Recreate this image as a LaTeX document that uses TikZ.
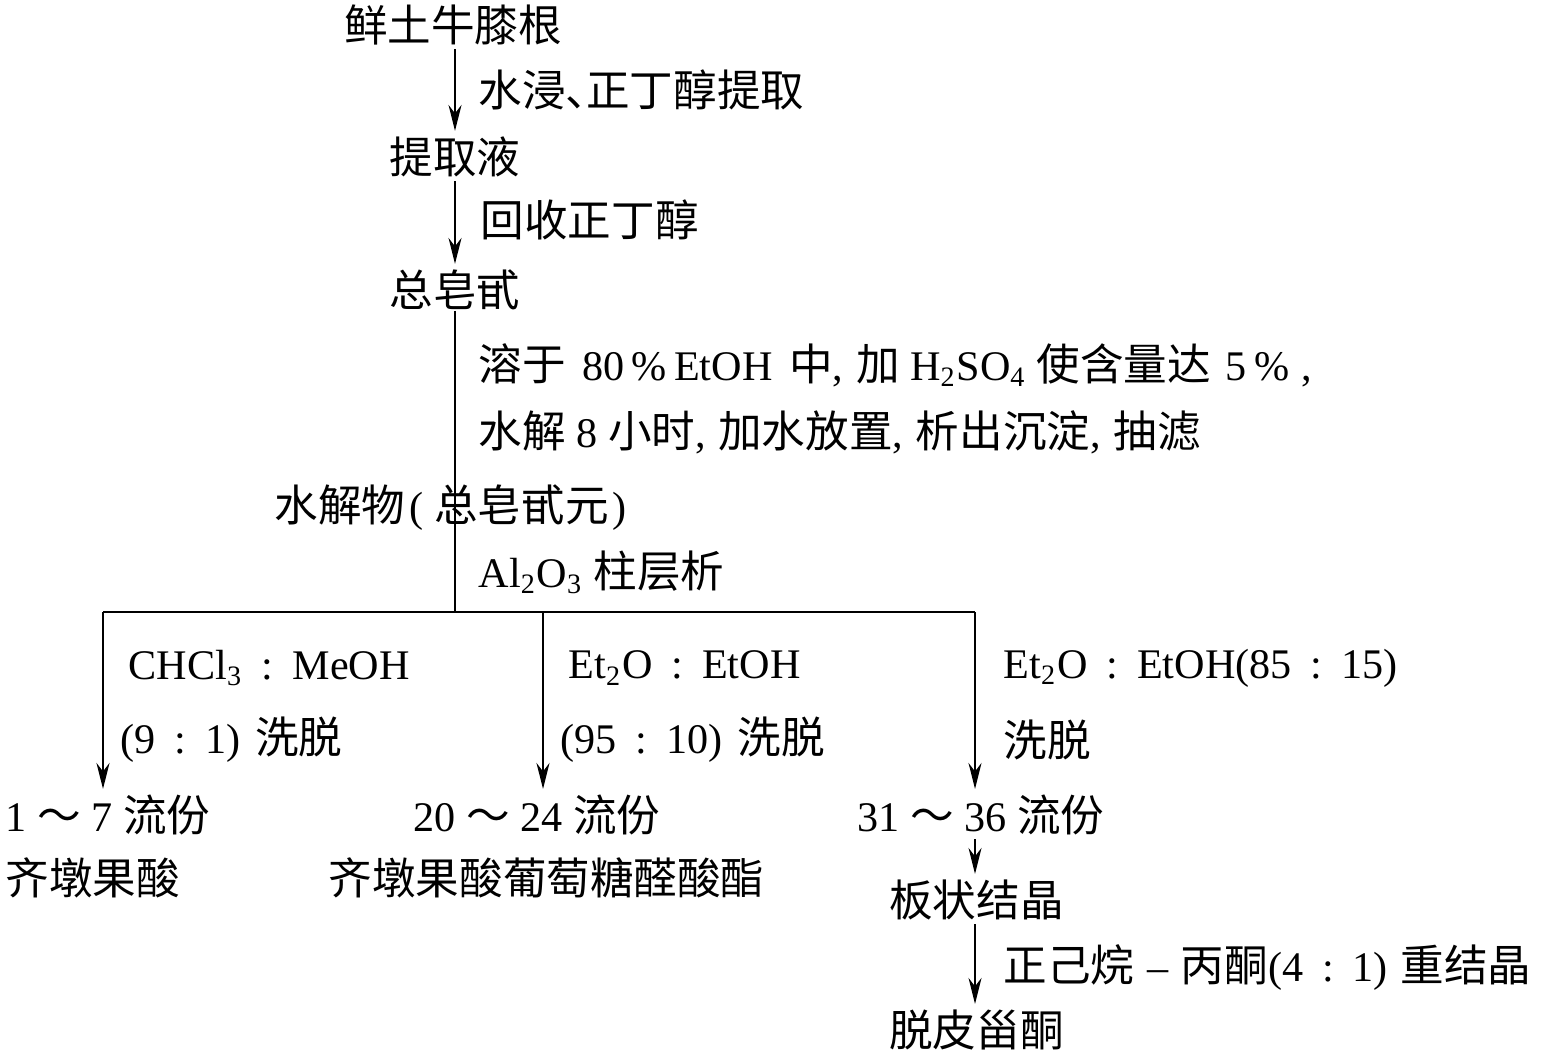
\documentclass[tikz,border=0pt]{standalone}
\usepackage{fontspec}
\setmainfont{Liberation Serif}
\newfontfamily\cjk{Noto Sans CJK SC}
\usetikzlibrary{positioning}
\usetikzlibrary{arrows.meta}
\newcommand{\zh}[1]{{\fontsize{12.4}{14}\cjk #1}}
\newcommand{\rt}{\hspace{0.45em}:\hspace{0.45em}}
\newcommand{\cm}{,\hspace{0.3em}}

\begin{document}
\begin{tikzpicture}[
  every node/.style={font=\fontsize{12}{14}\selectfont, inner sep=0pt},
  stage/.style={font=\fontsize{12.4}{14}\selectfont\cjk},
  note/.style={anchor=west},
  flow/.style={-{Stealth[length=2.6mm,width=1.3mm]}, line width=0.6pt, shorten >=1.5pt, shorten <=1pt},
  link/.style={line width=0.6pt},
]
  \useasboundingbox (0,0) rectangle (15.45,-10.53);

  % main chain
  \node[stage] (root) at (4.53,-0.25) {鲜土牛膝根};
  \node[stage] (extract) at (4.55,-1.57) {提取液};
  \node[stage] (saponin) at (4.55,-2.90) {总皂甙};
  \node[note] (hydro) at (2.74,-5.08) {\zh{水解物}\hspace{0.1em}(\hspace{0.25em}\zh{总皂甙元}\hspace{0.1em})};

  \node[note] (soak) at (4.78,-0.90) {\zh{水浸、}\hspace{-0.55em}\zh{正丁醇提取}};
  \node[note] (recover) at (4.80,-2.20) {\zh{回收正丁醇}};
  \node[note] (dissolve) at (4.78,-3.65) {\zh{溶于}\hspace{0.4em}80\,\%\,EtOH\hspace{0.4em}\zh{中}\cm\zh{加} H\textsubscript{2}SO\textsubscript{4} \zh{使含量达}\hspace{0.35em}5\,\%\hspace{0.3em},};
  \node[note] (hydrolyse) at (4.78,-4.32) {\zh{水解} 8 \zh{小时}\cm\zh{加水放置}\cm\zh{析出沉淀}\cm\zh{抽滤}};
  \node[note] (column) at (4.78,-5.72) {Al\textsubscript{2}O\textsubscript{3} \zh{柱层析}};

  \draw[flow] (extract |- root.south) -- (extract.north);
  \draw[flow] (extract) -- (saponin);

  % branching
  \coordinate (split) at (4.55,-6.12);
  \coordinate (b1) at (1.03,-6.12);
  \coordinate (b2) at (5.43,-6.12);
  \coordinate (b3) at (9.75,-6.12);
  \draw[link] (saponin.south) -- (split);
  \draw[link, line width=0.8pt] (b1) -- (b3);

  \node[note] (eluA) at (1.28,-6.68) {CHCl\textsubscript{3}\rt MeOH};
  \node[note] (eluA2) at (1.20,-7.40) {(9\rt 1)\hspace{0.35em}\zh{洗脱}};
  \node[note] (eluB) at (5.68,-6.68) {Et\textsubscript{2}O\rt EtOH};
  \node[note] (eluB2) at (5.60,-7.40) {(95\rt 10)\hspace{0.35em}\zh{洗脱}};
  \node[note] (eluC) at (10.03,-6.68) {Et\textsubscript{2}O\rt EtOH(85\rt 15)};
  \node[note] (eluC2) at (10.03,-7.40) {\zh{洗脱}};

  \node[note] (frac1) at (0.05,-8.15) {1 \zh{～} 7 \zh{流份}};
  \node[note] (frac2) at (4.13,-8.15) {20 \zh{～} 24 \zh{流份}};
  \node[note] (frac3) at (8.57,-8.15) {31 \zh{～} 36 \zh{流份}};

  \draw[flow, shorten <=0pt] (b1) -- (b1 |- frac1.north);
  \draw[flow, shorten <=0pt] (b2) -- (b2 |- frac2.north);
  \draw[flow, shorten <=0pt] (b3) -- (b3 |- frac3.north);

  % products
  \node[stage, anchor=west] (oleanolic) at (0.05,-8.78) {齐墩果酸};
  \node[stage, anchor=west] (glucuronide) at (3.28,-8.78) {齐墩果酸葡萄糖醛酸酯};

  \node[stage] (crystal) at (9.765,-9.00) {板状结晶};
  \node[note] (recryst) at (10.03,-9.68) {\zh{正己烷}\hspace{0.3em}–\hspace{0.3em}\zh{丙酮}(4\rt 1)\hspace{0.3em}\zh{重结晶}};
  \node[stage] (ecdysone) at (9.765,-10.30) {脱皮甾酮};

  \draw[flow] (b3 |- frac3.south) -- (b3 |- crystal.north);
  \draw[flow] (b3 |- crystal.south) -- (b3 |- ecdysone.north);
\end{tikzpicture}
\end{document}
